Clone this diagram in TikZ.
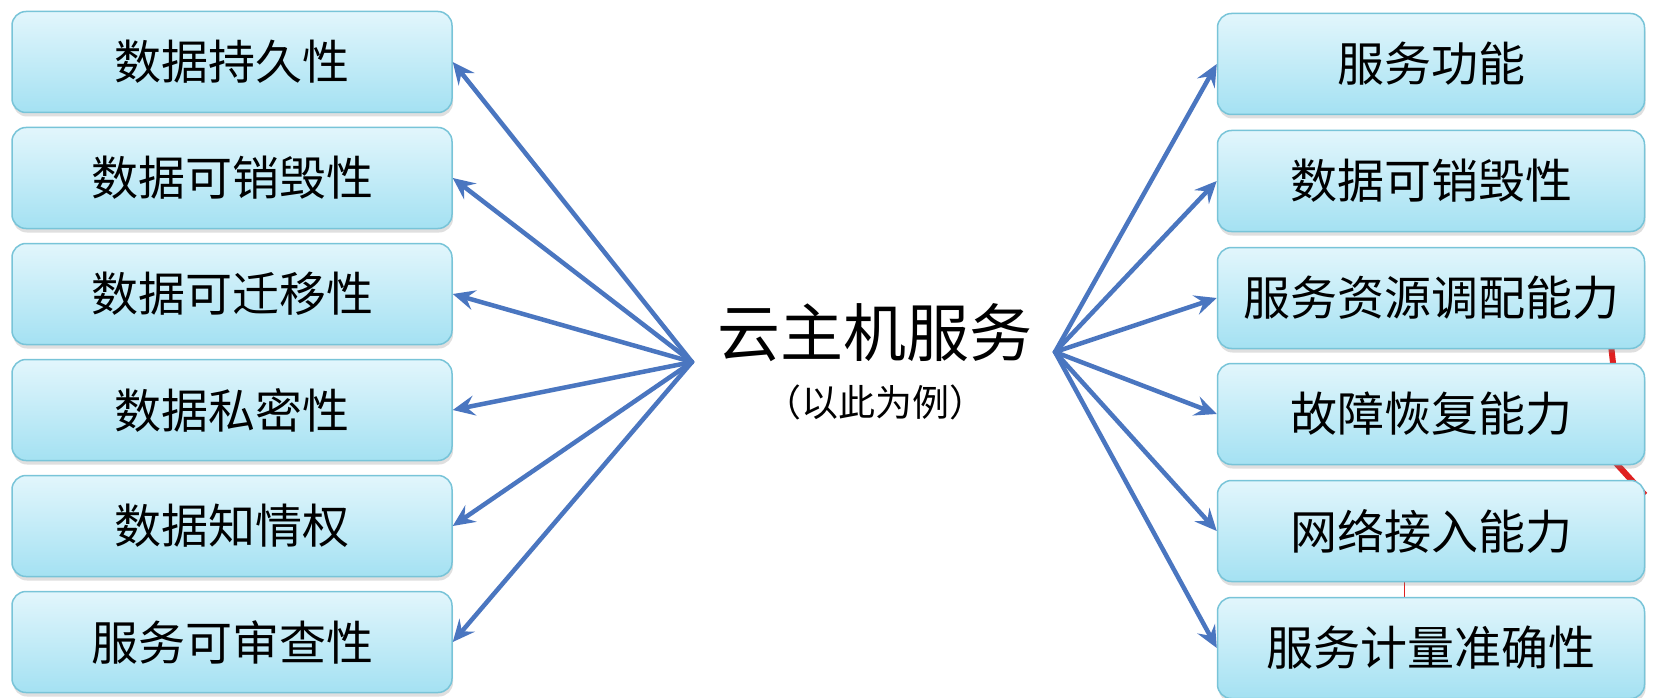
\documentclass[tikz,border=0pt]{standalone}
\usepackage{fontspec}
\setmainfont{Noto Sans CJK SC}
\usetikzlibrary{arrows.meta,shadows}
\definecolor{boxtop}{HTML}{E2F6FC}
\definecolor{boxbot}{HTML}{A4E1F2}
\definecolor{boxline}{HTML}{78C4D8}
\definecolor{arrowblue}{HTML}{4A76C0}
\definecolor{bgred}{HTML}{E02020}
\begin{document}
\begin{tikzpicture}[x=1pt,y=-1pt,
  cbox/.style={rounded corners=14pt, draw=boxline, line width=1.5pt,
    top color=boxtop, bottom color=boxbot, minimum height=101pt,
    inner sep=0pt, font=\fontsize{47}{52}\selectfont,
    drop shadow={shadow xshift=1pt, shadow yshift=-4pt, opacity=0.25}},
  lbox/.style={cbox, minimum width=440pt},
  rbox/.style={cbox, minimum width=427pt},
  link/.style={draw=arrowblue, line width=4.5pt, line cap=round,
    -{Stealth[length=22pt,width=20pt,inset=8pt]}},
  redline/.style={draw=bgred, line width=6pt}]
\fill[white] (0,0) rectangle (1656,698);
\useasboundingbox (0,0) rectangle (1656,698);
% faint background remnants
\draw[redline] (1606,300) -- (1614,372);
\draw[redline] (1604,450) -- (1645,495);
\draw[bgred, line width=1pt] (1404,575) -- (1404,600);
% left boxes
\node[lbox] (l1) at (232,62)  {数据持久性};
\node[lbox] (l2) at (232,178) {数据可销毁性};
\node[lbox] (l3) at (232,294) {数据可迁移性};
\node[lbox] (l4) at (232,410) {数据私密性};
\node[lbox] (l5) at (232,526) {数据知情权};
\node[lbox] (l6) at (232,642) {服务可审查性};
% right boxes
\node[rbox] (r1) at (1431,64)  {服务功能};
\node[rbox] (r2) at (1431,181) {数据可销毁性};
\node[rbox] (r3) at (1431,298) {服务资源调配能力};
\node[rbox] (r4) at (1431,414) {故障恢复能力};
\node[rbox] (r5) at (1431,531) {网络接入能力};
\node[rbox] (r6) at (1431,648) {服务计量准确性};
% centre
\node[font=\fontsize{63}{69}\selectfont, inner sep=0pt] (title) at (875,333) {云主机服务};
\node[font=\fontsize{37}{42}\selectfont, inner sep=0pt] (sub) at (875,402) {（以此为例）};
\coordinate (hl) at (692,362);
\coordinate (hr) at (1055,352);
\foreach \i in {1,...,6}{
  \draw[link] (hl) -- (l\i.east);
  \draw[link] (hr) -- (r\i.west);
}
\end{tikzpicture}
\end{document}
